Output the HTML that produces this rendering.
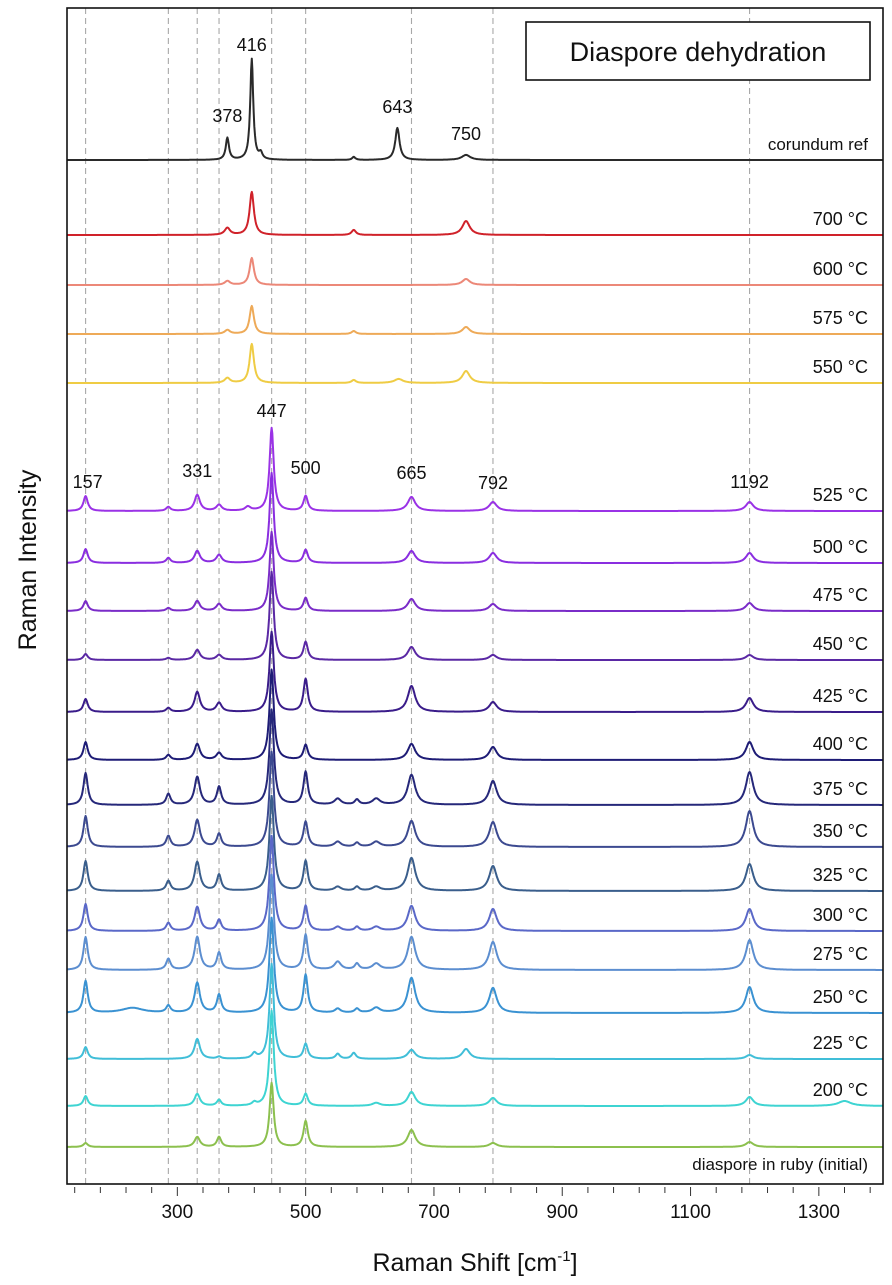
<!DOCTYPE html>
<html><head><meta charset="utf-8"><style>
html,body{margin:0;padding:0;background:#fff}
svg{display:block;font-family:"Liberation Sans",sans-serif}
</style></head><body>
<svg id="chart" width="892" height="1285" viewBox="0 0 892 1285" xmlns="http://www.w3.org/2000/svg">
<g id="grid"></g>
<g id="series"></g>
<g id="labels"></g>
<g id="axis"></g>
<rect x="67" y="8" width="816" height="1176" fill="none" stroke="#111" stroke-width="1.6"/>
<rect x="526" y="22" width="344" height="58" fill="#fff" stroke="#111" stroke-width="1.6"/>
<text x="698" y="61" font-size="27" text-anchor="middle" fill="#111">Diaspore dehydration</text>
<text transform="translate(36,560) rotate(-90)" font-size="25" text-anchor="middle" fill="#111">Raman Intensity</text>
<text x="475" y="1271" font-size="25" text-anchor="middle" fill="#111">Raman Shift [cm<tspan font-size="15" dy="-10">-1</tspan><tspan dy="10">]</tspan></text>
</svg>
<script>
// ---- data ----
const seriesNames = ["corundum ref","700 °C","600 °C","575 °C","550 °C","525 °C","500 °C","475 °C","450 °C","425 °C","400 °C","375 °C","350 °C","325 °C","300 °C","275 °C","250 °C","225 °C","200 °C","diaspore in ruby (initial)"];
const seriesOffsets = [160,235,285,334,383,511,563,611,660,712,760,805,847,891,931,970,1013,1059,1106,1147];
const seriesColors = ["#2a2a2a","#d0222a","#ec8878","#eeaa58","#efcc44","#9a32e6","#8a2ee0","#7a2cc8","#5a28a4","#3a1c8a","#1e1c76","#26287a","#3c4a90","#3a5e8c","#5a68c8","#5c8ed0","#3a92d2","#40bed8","#3ed4d2","#8cc04e"];
// peaks: [position cm-1, height, half-width]
const peaks0 = [[378,22,3],[416,101,2.8],[430,6,3],[575,3,3],[643,32,4],[750,5,8]];
const peaks1 = [[378,7,5],[416,43,4],[575,5,4],[750,14,7]];
const peaks2 = [[378,4,5],[416,27,4],[750,6,7]];
const peaks3 = [[378,4,5],[416,28,4],[575,3,4],[750,7,7]];
const peaks4 = [[378,5,5],[416,39,4],[575,3,4],[645,4,8],[750,12,7]];
const peaks5 = [[157,15,4],[286,4,4],[331,16,5],[365,6,5],[410,4,5],[447,83,3.8],[500,15,4],[665,14,7],[792,9,7],[1192,9,7]];
const peaks6 = [[157,14,4],[286,5,4],[331,12,5],[365,8,5],[447,90,3.8],[500,13,4],[665,12,7],[792,10,7],[1192,10,7]];
const peaks7 = [[157,10,4],[286,3,4],[331,10,5],[365,7,5],[447,79,3.8],[500,13,4],[665,12,7],[792,7,7],[1192,8,7]];
const peaks8 = [[157,6,4],[286,2,4],[331,10,5],[365,5,5],[447,88,3.8],[500,18,4],[665,13,7],[792,5,7],[1192,5,7]];
const peaks9 = [[157,13,4],[286,4,4],[331,20,5],[365,9,5],[447,80,4],[500,33,4],[665,26,7],[792,10,7],[1192,14,7]];
const peaks10 = [[157,18,4],[286,5,4],[331,16,5],[365,7,5],[447,90,4],[500,15,4],[665,16,7],[792,13,7],[1192,18,7]];
const peaks11 = [[157,32,4],[286,11,4],[331,28,5],[365,18,4],[447,95,4.2],[500,33,4],[550,6,6],[580,5,4],[610,6,7],[665,30,7],[792,24,7],[1192,33,7]];
const peaks12 = [[157,31,4],[286,11,4],[331,27,5],[365,13,4],[447,95,4.2],[500,25,4],[550,5,6],[580,4,4],[610,5,7],[665,26,7],[792,25,7],[1192,36,7]];
const peaks13 = [[157,30,4],[286,10,4],[331,29,5],[365,16,4],[447,95,4.2],[500,30,4],[550,4,6],[580,4,4],[610,4,7],[665,33,7],[792,25,7],[1192,27,7]];
const peaks14 = [[157,27,4],[286,8,4],[331,24,5],[365,11,4],[447,95,4.2],[500,25,4],[550,4,6],[580,4,4],[610,4,7],[665,25,7],[792,22,7],[1192,22,7]];
const peaks15 = [[157,33,4],[286,11,4],[331,33,5],[365,17,4],[447,95,4.2],[500,35,4],[550,8,6],[580,6,4],[610,6,7],[665,33,7],[792,28,7],[1192,30,7]];
const peaks16 = [[157,32,4],[230,5,20],[286,7,4],[331,30,5],[365,18,4],[447,95,4.2],[500,38,4],[550,4,5],[580,4,4],[610,5,7],[665,35,7],[792,25,7],[1192,26,7]];
const peaks17 = [[157,12,4],[331,20,5],[365,2,4],[420,5,4],[447,95,4],[500,15,4],[550,5,4],[575,6,4],[665,9,7],[750,10,7],[1192,4,7]];
const peaks18 = [[157,10,4],[331,12,5],[365,6,4],[420,3,4],[447,95,4],[500,12,4],[610,3,7],[665,14,7],[792,8,7],[1192,9,7],[1340,5,12]];
const peaks19 = [[157,4,4],[331,10,5],[365,10,4],[447,64,3.8],[500,26,4],[665,17,7],[792,4,7],[1192,5,7]];
const seriesPeaks = [peaks0,peaks1,peaks2,peaks3,peaks4,peaks5,peaks6,peaks7,peaks8,peaks9,peaks10,peaks11,peaks12,peaks13,peaks14,peaks15,peaks16,peaks17,peaks18,peaks19];
const refLines = [157,286,331,365,447,500,665,792,1192];
const corPeakLabels = [378,416,643,750];
const corPeakLabelY = [122,51,113,140];
const diaPeakLabels = [157,331,447,500,665,792,1192];
const diaPeakLabelY = [488,477,417,474,479,489,488];
const tickValues = [300,500,700,900,1100,1300];
const xMin = 128, xMax = 1400;
// ---- axes ----
const X0 = 67, X1 = 883, Y0 = 8, Y1 = 1184;
const xs = v => X0 + (v - xMin) / (xMax - xMin) * (X1 - X0);
const ys = (off, inten) => off - inten;
const NS = "http://www.w3.org/2000/svg";
function mk(tag, attrs, parent){const e=document.createElementNS(NS,tag);for(const k in attrs)e.setAttribute(k,attrs[k]);parent.appendChild(e);return e;}
const grid=document.getElementById('grid'), ser=document.getElementById('series'), lab=document.getElementById('labels'), ax=document.getElementById('axis');
refLines.forEach(v=>{
  const l=mk('line',{x1:xs(v),x2:xs(v),y1:Y0,y2:Y1,stroke:'#a8a8a8','stroke-width':1.1,'stroke-dasharray':'6,4'},grid);
  
  
});
function intensity(pk, v){let s=0;pk.forEach(p=>{const d=(v-p[0])/p[2];s+=p[1]/(1+d*d);});return s;}
seriesNames.forEach((name,i)=>{
  let d='';
  for(let v=xMin; v<=xMax; v+=1){
    d += (v===xMin?'M':'L') + xs(v).toFixed(1) + ',' + ys(seriesOffsets[i], intensity(seriesPeaks[i], v)).toFixed(1);
  }
  const p=mk('path',{d:d,fill:'none',stroke:seriesColors[i],'stroke-width':2,'stroke-linejoin':'round'},ser);
  
  
  const ly = i===seriesNames.length-1 ? seriesOffsets[i]+23 : seriesOffsets[i]-10;
  const t=mk('text',{x:868,y:ly,'font-size':i===0||i===seriesNames.length-1?17:18,'text-anchor':'end',fill:'#111'},lab);
  t.textContent=name;
  
  
});
corPeakLabels.forEach((v,i)=>{
  const t=mk('text',{x:xs(v),y:corPeakLabelY[i],'font-size':18,'text-anchor':'middle',fill:'#111'},lab);
  t.textContent=String(v);
  
  
});
diaPeakLabels.forEach((v,i)=>{
  const t=mk('text',{x:xs(v)+(v===157?2:0),y:diaPeakLabelY[i],'font-size':18,'text-anchor':'middle',fill:'#111'},lab);
  t.textContent=String(v);
  
  
});
for(let v=140; v<=xMax; v+=40){
  const major = tickValues.indexOf(v)>=0;
  const l=mk('line',{x1:xs(v),x2:xs(v),y1:Y1+3,y2:Y1+(major?12:9),stroke:'#333','stroke-width':1},ax);
  
  
}
tickValues.forEach(v=>{
  const t=mk('text',{x:xs(v),y:1218,'font-size':19,'text-anchor':'middle',fill:'#111'},ax);
  t.textContent=String(v);
  
  
});
</script>
</body></html>
